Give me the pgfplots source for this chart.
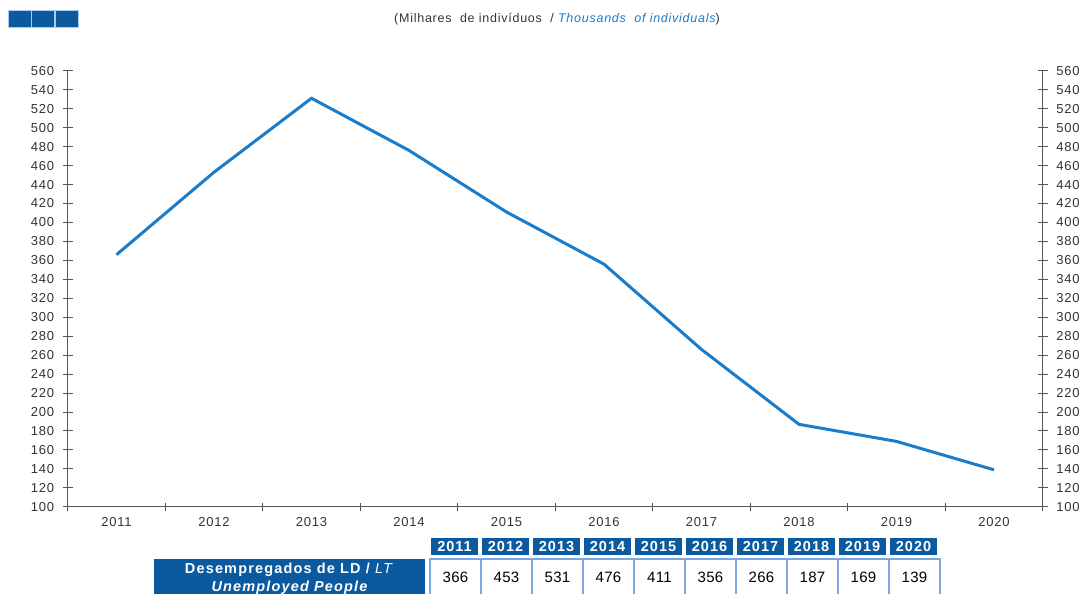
\documentclass[border=0pt]{standalone}
\usepackage{pgfplots}
\pgfplotsset{compat=1.18}
\usepackage{fontspec}
\setmainfont{Liberation Sans}
\newfontfamily\ticksans[LetterSpace=6]{Liberation Sans}
\newfontfamily\titlesans[LetterSpace=6]{Liberation Sans}
\newfontfamily\labsans[LetterSpace=8]{Liberation Sans}
\newfontfamily\hdrsans[LetterSpace=7]{Liberation Sans}
\newfontfamily\numsans[LetterSpace=2]{Liberation Sans}
\definecolor{lineblue}{HTML}{1B7CC9}
\definecolor{hdrblue}{HTML}{0B5AA0}
\definecolor{axgray}{HTML}{555555}
\definecolor{txtgray}{HTML}{333333}
\definecolor{cellborder}{HTML}{7DA7E0}
\begin{document}
\begin{tikzpicture}[x=1pt,y=1pt]
\useasboundingbox (0,0) rectangle (1082,594);
\pgfplotsset{
  mystyle/.style={
    at={(69.5,92)}, anchor=south west, scale only axis,
    width=975pt, height=436pt,
    xmin=-0.5, xmax=9.5, ymin=100, ymax=560,
    axis line style={axgray, line width=1.1pt},
    ytick={100,120,...,560},
    tick align=center,
    major tick length=10pt, minor tick length=8pt,
    tick style={axgray, line width=1pt},
    ticklabel style={font=\ticksans\fontsize{13}{13}\selectfont, text=txtgray},
    /pgf/number format/assume math mode=true,
    /pgf/number format/1000 sep={},
    clip=false,
  }
}
\begin{axis}[mystyle,
  axis x line*=bottom, axis y line*=left,
  xtick={0,...,9},
  xticklabels={2011,2012,2013,2014,2015,2016,2017,2018,2019,2020},
  major x tick style={draw=none},
  minor xtick={-0.5,0.5,...,9.5},
  xticklabel style={yshift=-2pt},
  yticklabel style={xshift=-5pt},
]
\addplot[lineblue, line width=3pt, mark=none] coordinates {
  (0,366) (1,453) (2,531) (3,476) (4,411) (5,356) (6,266) (7,187) (8,169) (9,139)
};
\end{axis}
\begin{axis}[mystyle,
  axis y line*=right, axis x line=none,
  yticklabel style={xshift=5pt},
]
\addplot[draw=none, mark=none] coordinates {(0,100)};
\end{axis}

% top-left squares
\foreach \x in {8,31.5,55}{
  \fill[hdrblue, draw=cellborder!60, line width=0.6pt] (\x,567) rectangle ++(23,17);
}
% title
\node at (557,575) {\titlesans\fontsize{12.5}{13}\selectfont\color{txtgray}(Milhares\ \ de indivíduos\ \ / \textcolor{lineblue}{\itshape Thousands\ \ of individuals})};

% table
\foreach \yr [count=\i from 0] in {2011,2012,2013,2014,2015,2016,2017,2018,2019,2020}{
  \fill[hdrblue] (431+51*\i,39) rectangle ++(47,17);
  \node[text=white, font=\hdrsans\fontsize{14.5}{14.5}\selectfont\bfseries] at (454.5+51*\i,47.5) {\yr};
}
\foreach \v [count=\i from 0] in {366,453,531,476,411,356,266,187,169,139}{
  \draw[cellborder, line width=1.6pt, fill=white] (430+51*\i,-5) rectangle ++(51,40);
  \node[text=black, font=\numsans\fontsize{15}{15}\selectfont] at (455.5+51*\i,17) {\v};
}
\fill[hdrblue] (154,-5) rectangle (425,35);
\node[text=white, font=\labsans\fontsize{14.5}{14.5}\selectfont\bfseries] at (289.5,24.5) {Desempregados de LD / \textit{\mdseries LT}};
\node[text=white, font=\labsans\fontsize{14.5}{14.5}\selectfont\bfseries\itshape] at (289.5,6.5) {Unemployed People};
\end{tikzpicture}
\end{document}
